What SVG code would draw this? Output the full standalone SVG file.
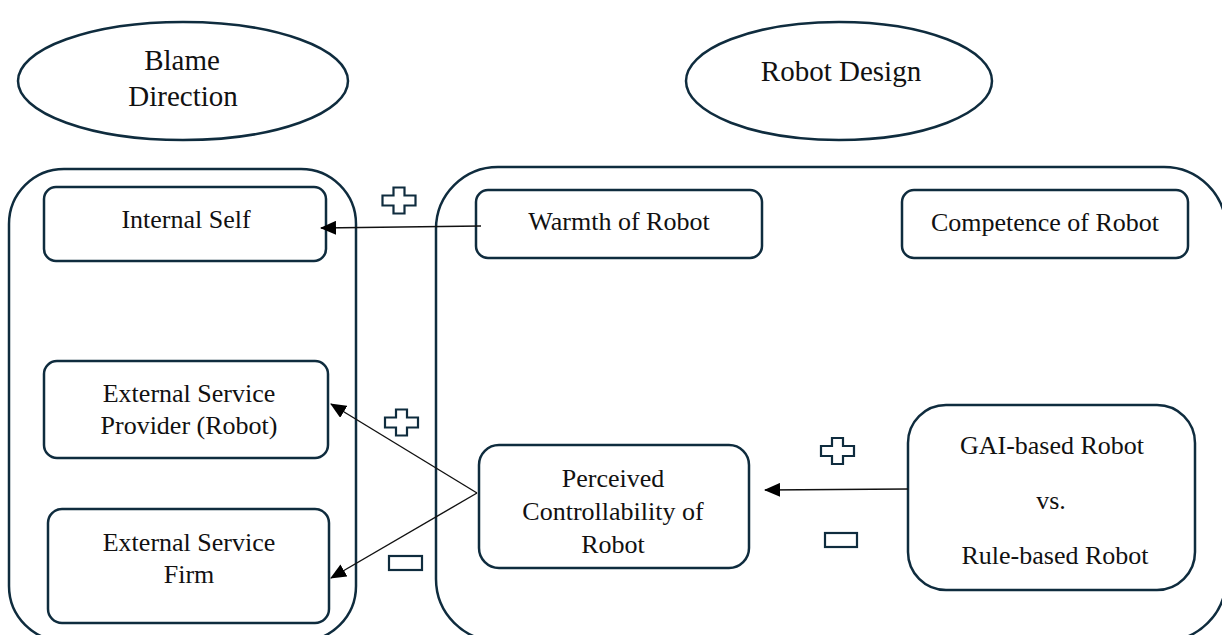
<svg xmlns="http://www.w3.org/2000/svg" width="1222" height="635" viewBox="0 0 1222 635">
<style>
.shape{fill:#fff;stroke:#0F2C3E;stroke-width:2.5}
.cont{fill:none;stroke:#0F2C3E;stroke-width:2.5}
.t{font-family:'Liberation Serif','DejaVu Serif',serif;font-size:26px;fill:#111;text-anchor:middle}
.tl{font-family:'Liberation Serif','DejaVu Serif',serif;font-size:29px;fill:#111;text-anchor:middle}
.conn{stroke:#111;stroke-width:1.4;fill:none;marker-end:url(#ah)}
.sign{fill:#fff;stroke:#0F2C3E;stroke-width:2.2}
</style>
<defs>
<marker id="ah" viewBox="0 0 16 14" refX="15" refY="7" markerWidth="16" markerHeight="14" markerUnits="userSpaceOnUse" orient="auto">
<path d="M0,0 L16,7 L0,14 Z" fill="#000"/>
</marker>
<path id="plus" d="M-5.5,-13 h11 v8 h11 v10 h-11 v8 h-11 v-8 h-11 v-10 h11 z"/>
</defs>
<rect width="1222" height="635" fill="#fff"/>

<g id="blame-direction">
<ellipse class="shape" cx="183" cy="81" rx="165" ry="59"/>
<text class="tl" x="182" y="70">Blame</text>
<text class="tl" x="183" y="106">Direction</text>
</g>
<g id="robot-design">
<ellipse class="shape" cx="839" cy="81" rx="153" ry="59"/>
<text class="tl" x="841" y="81">Robot Design</text>
</g>

<g id="blame-container"><rect class="cont" x="9" y="169" width="347" height="472" rx="55"/></g>
<g id="design-container"><rect class="cont" x="436" y="167" width="790" height="474" rx="62"/></g>

<g id="internal-self">
<rect class="shape" x="44" y="187" width="282" height="74" rx="12"/>
<text class="t" x="186" y="228">Internal Self</text>
</g>
<g id="provider">
<rect class="shape" x="44" y="361" width="284" height="97" rx="13"/>
<text class="t" x="189" y="402">External Service</text>
<text class="t" x="189" y="434">Provider (Robot)</text>
</g>
<g id="firm">
<rect class="shape" x="48" y="509" width="281" height="114" rx="14"/>
<text class="t" x="189" y="551">External Service</text>
<text class="t" x="189" y="583">Firm</text>
</g>
<g id="warmth">
<rect class="shape" x="476" y="190" width="286" height="68" rx="12"/>
<text class="t" x="619" y="230">Warmth of Robot</text>
</g>
<g id="competence">
<rect class="shape" x="902" y="190" width="286" height="68" rx="12"/>
<text class="t" x="1045" y="231">Competence of Robot</text>
</g>
<g id="controllability">
<rect class="shape" x="479" y="445" width="270" height="123" rx="20"/>
<text class="t" x="613" y="487">Perceived</text>
<text class="t" x="613" y="520">Controllability of</text>
<text class="t" x="613" y="553">Robot</text>
</g>
<g id="gai-vs-rule">
<rect class="shape" x="908" y="405" width="287" height="185" rx="38"/>
<text class="t" x="1052" y="454">GAI-based Robot</text>
<text class="t" x="1051" y="509">vs.</text>
<text class="t" x="1055" y="564">Rule-based Robot</text>
</g>

<g id="connectors">
<line class="conn" x1="481" y1="226" x2="321" y2="228"/>
<line class="conn" x1="477" y1="493" x2="331" y2="404"/>
<line class="conn" x1="477" y1="493" x2="331" y2="578"/>
<line class="conn" x1="908" y1="489" x2="765" y2="490"/>
</g>

<g id="signs">
<use href="#plus" class="sign" transform="translate(399,200.5)"/>
<use href="#plus" class="sign" transform="translate(401.5,422.5)"/>
<use href="#plus" class="sign" transform="translate(837.5,451)"/>
<rect class="sign" x="389" y="556" width="33" height="14"/>
<rect class="sign" x="825" y="533" width="32" height="14"/>
</g>
</svg>
